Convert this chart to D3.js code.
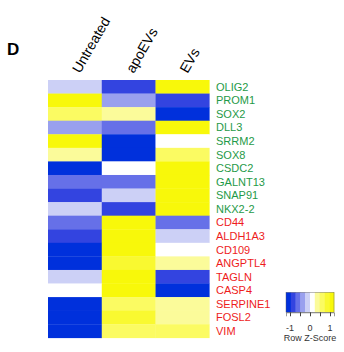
<!DOCTYPE html>
<html><head><meta charset="utf-8">
<script src="https://cdn.jsdelivr.net/npm/d3@7"></script>
<style>body{margin:0;background:#fff;} svg{display:block;font-family:"Liberation Sans",Arial,sans-serif;}</style>
</head><body>
<svg id="c" width="344" height="352"></svg>
<script>
const columns = ["Untreated", "apoEVs", "EVs"];
const genes = ["OLIG2","PROM1","SOX2","DLL3","SRRM2","SOX8","CSDC2","GALNT13","SNAP91","NKX2-2",
               "CD44","ALDH1A3","CD109","ANGPTL4","TAGLN","CASP4","SERPINE1","FOSL2","VIM"];
const geneGroup = ["g","g","g","g","g","g","g","g","g","g","r","r","r","r","r","r","r","r","r"];
const untreated = [-0.10, 1.10, 0.55, -0.35, 1.00, 0.40, -1.05, -0.58, -0.85, -0.15, -0.57, -0.85, -1.05, -1.10, -0.10, 0.05, -1.15, -1.15, -1.15];
const apoEVs    = [-0.90, -0.30, 0.45, -0.65, -1.05, -1.10, 0.05, -0.57, -0.15, -0.85, 1.15, 1.00, 1.00, 0.80, 1.00, 1.00, 0.70, 0.80, 0.60];
const evs       = [1.00, -0.80, -1.00, 1.00, 0.05, 0.70, 1.00, 1.15, 1.00, 1.00, -0.58, -0.15, 0.05, 0.30, -0.90, -1.05, 0.45, 0.35, 0.55];
const palette = ["#0030dc","#3344e0","#6670e8","#99a0ee","#ccd0f6","#ffffff","#fbfb9a","#fbfb62","#f9f930","#f8f80a"];
const keyTicks = [-1, -0.5, 0, 0.5, 1];
const keyLabels = ["-1", "0", "1"];

const svg = d3.select("#c");
const x = d3.scaleBand().domain(columns).range([48, 209.3]).padding(0);
const y = d3.scaleBand().domain(genes).range([80, 337.8]).padding(0);
const color = d3.scaleQuantize().domain([-1.2, 1.2]).range(palette);

const series = [untreated, apoEVs, evs];
const cells = [];
genes.forEach((g, i) => columns.forEach((c, j) => cells.push({g, c, v: series[j][i]})));

svg.append("g").selectAll("rect").data(cells).join("rect")
  .attr("x", d => x(d.c)).attr("y", d => y(d.g))
  .attr("width", x.bandwidth() + 0.3).attr("height", y.bandwidth() + 0.3)
  .attr("fill", d => color(d.v));

// row labels
svg.append("g").selectAll("text").data(genes).join("text")
  .attr("x", 216).attr("y", d => y(d) + y.bandwidth()/2)
  .attr("dy", "0.36em").attr("font-size", 11)
  .attr("fill", (d, i) => geneGroup[i] === "g" ? "#1f9a48" : "#ee1c1c")
  .text(d => d);

// column labels
svg.append("g").selectAll("text").data(columns).join("text")
  .attr("transform", d => `translate(${x(d) + x.bandwidth()/2 + 5},${74}) rotate(-60)`)
  .attr("font-size", 14).attr("fill", "#000")
  .text(d => d);

// panel letter
svg.append("text").attr("x", 7).attr("y", 55).attr("font-size", 17).attr("font-weight", "bold").text("D");

// key
const kx = d3.scaleLinear().domain([-1.2, 1.2]).range([286, 334]);
const kTop = 292.3, kBot = 312.3;
const bins = d3.range(palette.length).map(i => color.invertExtent(palette[i]));
svg.append("g").selectAll("rect").data(bins).join("rect")
  .attr("x", d => kx(d[0])).attr("y", kTop)
  .attr("width", d => kx(d[1]) - kx(d[0]) + 0.3).attr("height", kBot - kTop)
  .attr("fill", (d, i) => palette[i]);
svg.append("rect").attr("x", 286).attr("y", kTop).attr("width", 48).attr("height", kBot - kTop)
  .attr("fill", "none").attr("stroke", "#555").attr("stroke-width", 0.4);
const ax = svg.append("g").attr("transform", `translate(0,${kBot})`)
  .call(d3.axisBottom(kx).tickValues(keyTicks).tickSize(4).tickFormat(""));
ax.select(".domain").attr("stroke", "#555").attr("stroke-width", 0.6);
ax.selectAll(".tick line").attr("stroke", "#444");
svg.append("g").selectAll("text").data(keyLabels).join("text")
  .attr("x", d => kx(+d)).attr("y", 331).attr("text-anchor", "middle")
  .attr("font-size", 9).attr("fill", "#333").text(d => d);
svg.append("text").attr("x", 310).attr("y", 341).attr("text-anchor", "middle")
  .attr("font-size", 9).attr("fill", "#333").text("Row Z-Score");
</script>
</body></html>
